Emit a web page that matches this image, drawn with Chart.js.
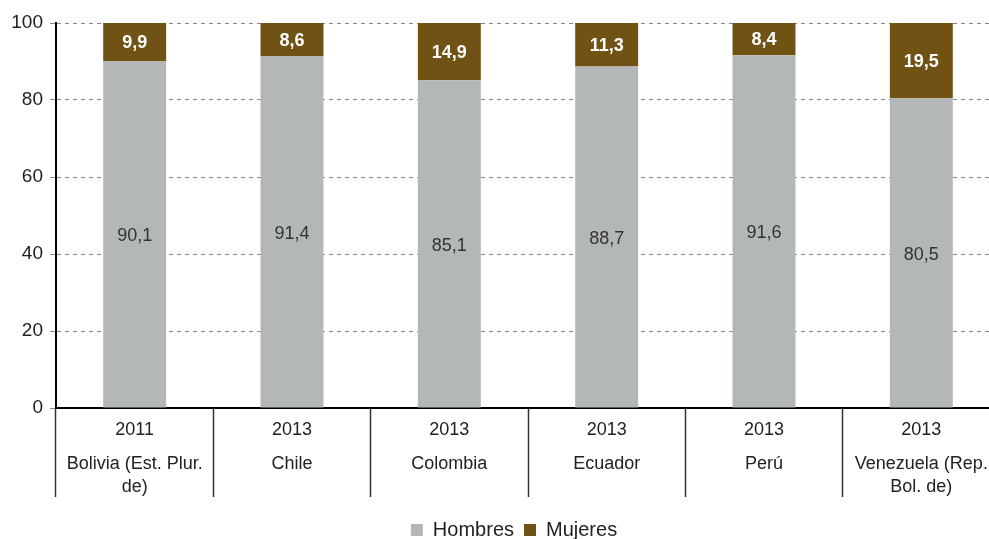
<!DOCTYPE html>
<html>
<head>
<meta charset="utf-8">
<script src="https://cdn.jsdelivr.net/npm/chart.js@4.4.1/dist/chart.umd.min.js"></script>
<style>
  html, body { margin: 0; padding: 0; background: #fff; overflow: hidden; }
  #wrap { width: 1000px; height: 550px; }
</style>
</head>
<body>
<div id="wrap"><canvas id="chart"></canvas></div>
<script>
// data
const years = ['2011', '2013', '2013', '2013', '2013', '2013'];
const countries = [
  ['Bolivia (Est. Plur.', 'de)'],
  ['Chile'],
  ['Colombia'],
  ['Ecuador'],
  ['Perú'],
  ['Venezuela (Rep.', 'Bol. de)']
];
const hombres = [90.1, 91.4, 85.1, 88.7, 91.6, 80.5];
const mujeres = [9.9, 8.6, 14.9, 11.3, 8.4, 19.5];
const yTicks = [0, 20, 40, 60, 80, 100];

const FONT = "'Liberation Sans', Arial, sans-serif";
const fmt = v => v.toFixed(1).replace('.', ',');

// two-row category labels under the x axis
const categoryLabels = {
  id: 'categoryLabels',
  afterDraw(chart) {
    const ctx = chart.ctx;
    const x = chart.scales.x;
    const bottom = chart.chartArea.bottom;
    ctx.save();
    ctx.fillStyle = '#222';
    ctx.font = '18px ' + FONT;
    ctx.textAlign = 'center';
    ctx.textBaseline = 'middle';
    years.forEach((yr, i) => {
      const px = x.getPixelForValue(i);
      ctx.fillText(yr, px, bottom + 22);
      countries[i].forEach((line, j) => {
        ctx.fillText(line, px, bottom + 56 + j * 23);
      });
    });
    ctx.restore();
  }
};

// value labels inside each bar segment
const valueLabels = {
  id: 'valueLabels',
  afterDatasetsDraw(chart) {
    const ctx = chart.ctx;
    ctx.save();
    ctx.textAlign = 'center';
    ctx.textBaseline = 'middle';
    chart.data.datasets.forEach((ds, di) => {
      const meta = chart.getDatasetMeta(di);
      meta.data.forEach((bar, i) => {
        const mid = (bar.y + bar.base) / 2;
        if (di === 0) {
          ctx.fillStyle = '#333';
          ctx.font = '18px ' + FONT;
          ctx.fillText(fmt(ds.data[i]), bar.x, mid + 2);
        } else {
          ctx.fillStyle = '#fff';
          ctx.font = 'bold 18px ' + FONT;
          ctx.fillText(fmt(ds.data[i]), bar.x, mid + 1);
        }
      });
    });
    ctx.restore();
  }
};

// centre the legend under the plot like the original
const legendShift = {
  id: 'legendShift',
  beforeDraw(chart) {
    const lg = chart.legend;
    if (lg) {
      lg.left = 28;
      lg.adjustHitBoxes();
    }
  }
};

new Chart(document.getElementById('chart'), {
  type: 'bar',
  data: {
    labels: countries.map(c => c.join(' ')),
    datasets: [
      {
        label: 'Hombres',
        data: hombres,
        backgroundColor: '#b3b8b7',
        barPercentage: 0.4,
        categoryPercentage: 1
      },
      {
        label: 'Mujeres',
        data: mujeres,
        backgroundColor: '#6f5214',
        barPercentage: 0.4,
        categoryPercentage: 1
      }
    ]
  },
  options: {
    responsive: true,
    maintainAspectRatio: false,
    animation: false,
    layout: { padding: { top: 23, left: 0, right: 0, bottom: 0 } },
    plugins: {
      tooltip: { enabled: false },
      legend: {
        position: 'bottom',
        labels: {
          color: '#222',
          font: { family: FONT, size: 20 },
          boxWidth: 12,
          boxHeight: 12,
          padding: 10
        }
      }
    },
    scales: {
      x: {
        stacked: true,
        afterFit: axis => { axis.height = 102; },
        border: { color: '#000', width: 2 },
        grid: {
          offset: true,
          drawOnChartArea: false,
          drawTicks: true,
          tickLength: 89,
          tickColor: '#333',
          tickWidth: 1.5
        },
        ticks: { display: false }
      },
      y: {
        stacked: true,
        min: 0,
        max: 100,
        afterBuildTicks: axis => { axis.ticks = yTicks.map(v => ({ value: v })); },
        afterFit: axis => { axis.width = 56; },
        border: { color: '#000', width: 2, dash: [4, 4] },
        grid: {
          color: '#888',
          lineWidth: 1,
          tickLength: 6,
          tickColor: '#888'
        },
        ticks: {
          color: '#222',
          padding: 7,
          font: { family: FONT, size: 19 }
        }
      }
    }
  },
  plugins: [categoryLabels, valueLabels, legendShift]
});
</script>
</body>
</html>
